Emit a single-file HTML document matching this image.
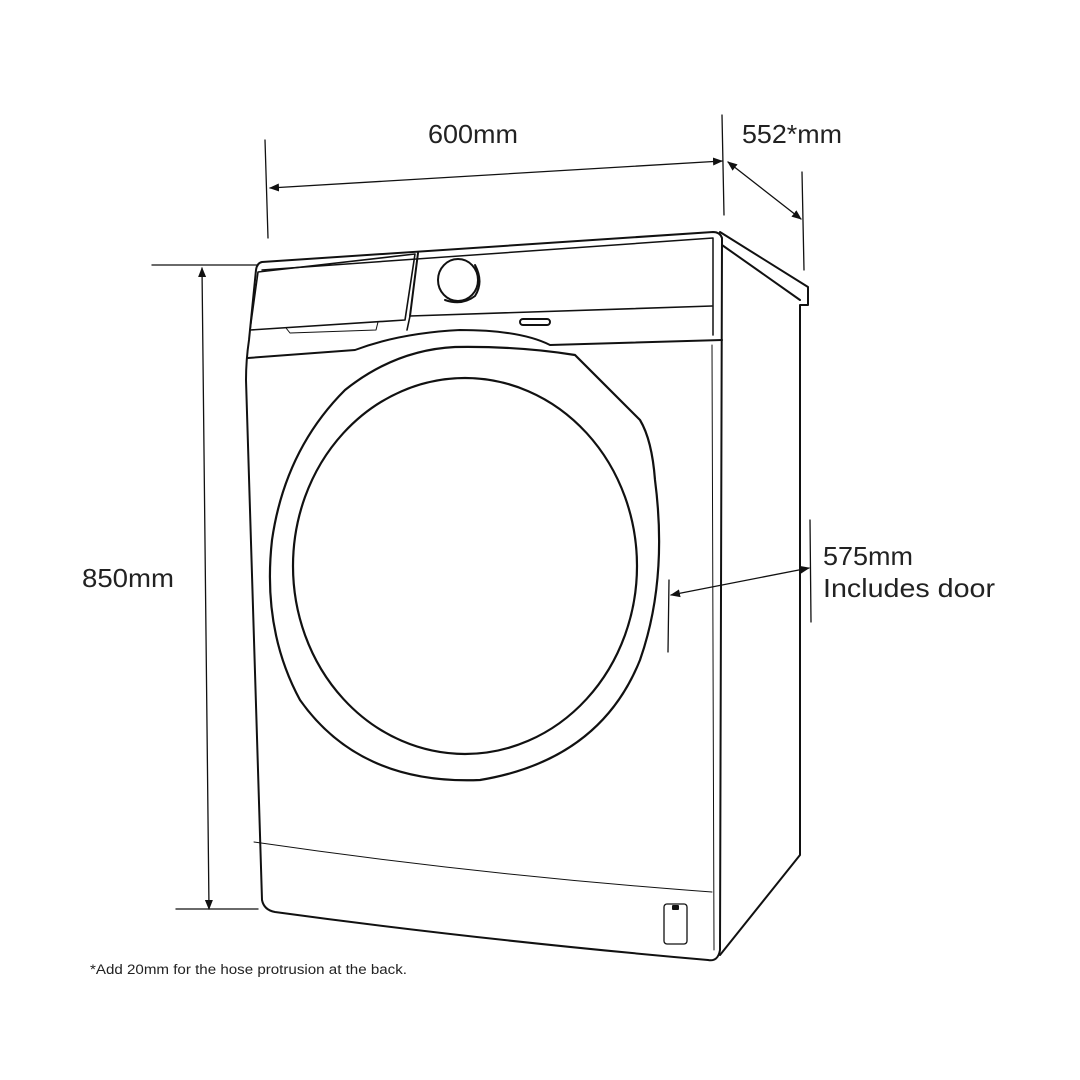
<!DOCTYPE html>
<html><head><style>body{margin:0;background:#fff}svg{display:block}text{font-family:"Liberation Sans",sans-serif;fill:#222}</style></head><body>
<svg width="1080" height="1080" viewBox="0 0 1080 1080" fill="none" stroke="#111" stroke-width="2" stroke-linejoin="round" stroke-linecap="round">
<defs><marker id="a" markerWidth="10" markerHeight="10" refX="9" refY="5" orient="auto-start-reverse" markerUnits="userSpaceOnUse"><path d="M0,1 L10,5 L0,9 Z" fill="#111" stroke="none"/></marker></defs>
<g stroke-width="1.3">
<line x1="265" y1="140" x2="268" y2="238"/>
<line x1="722" y1="115" x2="724" y2="215"/>
<line x1="802" y1="172" x2="804" y2="270"/>
<line x1="152" y1="265" x2="258" y2="265"/>
<line x1="176" y1="909" x2="258" y2="909"/>
<line x1="810" y1="520" x2="811" y2="622"/>
<line x1="669" y1="580" x2="668" y2="652"/>
<line x1="270" y1="188" x2="722" y2="161" marker-start="url(#a)" marker-end="url(#a)"/>
<line x1="728" y1="162" x2="801" y2="219" marker-start="url(#a)" marker-end="url(#a)"/>
<line x1="202" y1="268" x2="209" y2="909" marker-start="url(#a)" marker-end="url(#a)"/>
<line x1="671" y1="595" x2="809" y2="568" marker-start="url(#a)" marker-end="url(#a)"/>
</g>
<path d="M262,262 L713,232 Q720,232 722,238 L720,950 Q718,962 708,960 Q480,940 275,912 Q264,910 262,900 L246,380 Q246,360 249,340 L256,270 Q257,263 262,262 Z"/>
<path d="M720,232 L808,287 L808,305 L800,305 L800,855 L720,955"/>
<path d="M722,245 L800,300"/>
<path d="M262,270 L713,238 L713,335" stroke-width="1.5"/>
<path d="M258,272 L250,330 L405,320 L415,254 Z" stroke-width="1.6"/>
<path d="M407,330 L410,316 L712,306" stroke-width="1.6"/>
<path d="M410,316 L418,253"/>
<path d="M286,328 L290,333 L376,330 L378,322" stroke-width="1"/>
<ellipse cx="458" cy="280" rx="20" ry="21"/>
<path d="M445,300 Q462,306 475,296 Q484,282 475,265"/>
<rect x="520" y="319" width="30" height="6" rx="3"/>
<path d="M248,358 L355,350 Q400,333 460,330 Q520,330 550,345 L722,340"/>
<path d="M254,842 Q480,875 712,892" stroke-width="1"/>
<path d="M712,345 L714,950" stroke-width="1"/>
<rect x="664" y="904" width="23" height="40" rx="3" stroke-width="1.3"/>
<rect x="673" y="906" width="5" height="3" fill="#111"/>
<path d="M455,347 Q520,346 575,355 Q610,390 640,420 Q652,440 655,480 Q668,580 640,660 Q600,760 480,780 Q360,785 300,700 Q262,630 272,540 Q285,450 345,390 Q395,350 455,347 Z" stroke-width="2.2"/>
<ellipse cx="465" cy="566" rx="172" ry="188" stroke-width="2.2"/>
<g stroke="none" fill="#222">
<text x="428" y="143" font-size="26" textLength="90" lengthAdjust="spacingAndGlyphs">600mm</text>
<text x="742" y="143" font-size="26" textLength="100" lengthAdjust="spacingAndGlyphs">552*mm</text>
<text x="82" y="587" font-size="26" textLength="92" lengthAdjust="spacingAndGlyphs">850mm</text>
<text x="823" y="565" font-size="26" textLength="90" lengthAdjust="spacingAndGlyphs">575mm</text>
<text x="823" y="597" font-size="26" textLength="172" lengthAdjust="spacingAndGlyphs">Includes door</text>
<text x="90" y="974" font-size="13.5" textLength="317" lengthAdjust="spacingAndGlyphs">*Add 20mm for the hose protrusion at the back.</text>
</g>
</svg>
</body></html>
